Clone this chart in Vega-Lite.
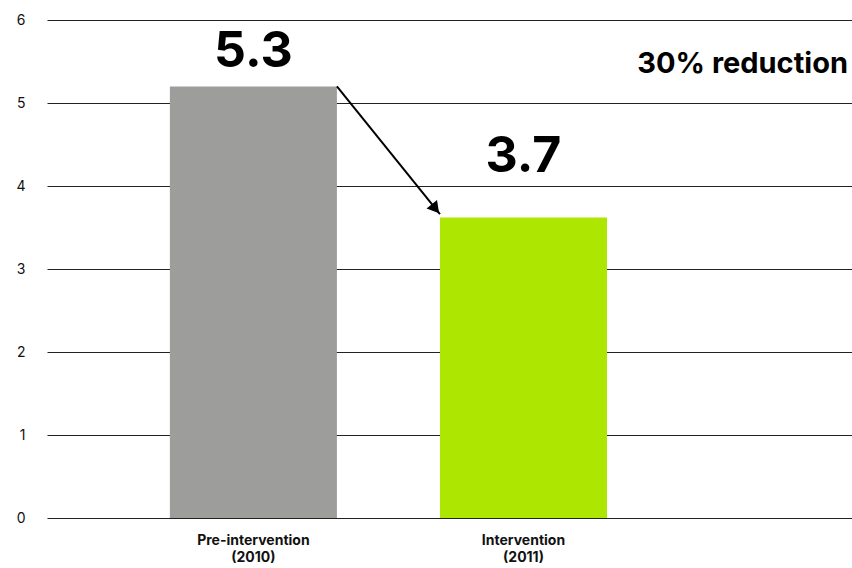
{
  "$schema": "https://vega.github.io/schema/vega-lite/v6.json",
  "width": 805,
  "height": 498,
  "autosize": {"type": "none"},
  "padding": {"left": 47, "top": 20, "right": 0, "bottom": 50},
  "background": "white",
  "config": {"view": {"stroke": null}, "font": "Inter"},
  "data": {
    "values": [
      {"category": "Pre-intervention (2010)", "value": 5.2, "label": "5.3", "label_y": 5.43},
      {"category": "Intervention (2011)", "value": 3.62, "label": "3.7", "label_y": 4.17}
    ]
  },
  "layer": [
    {
      "mark": {"type": "bar"},
      "encoding": {
        "x": {
          "field": "category",
          "type": "nominal",
          "sort": null,
          "scale": {"domain": ["Pre-intervention (2010)", "Intervention (2011)"], "paddingInner": 0.3815, "paddingOuter": 0.681, "align": 0.334},
          "axis": {
            "title": null,
            "domain": false,
            "ticks": false,
            "grid": false,
            "labelAngle": 0,
            "labelFontWeight": "bold",
            "labelFontSize": 14,
            "labelColor": "#111111",
            "labelPadding": 15,
            "labelLineHeight": 17,
            "labelExpr": "[split(datum.value, ' ')[0], split(datum.value, ' ')[1]]"
          }
        },
        "y": {
          "field": "value",
          "type": "quantitative",
          "scale": {"domain": [0, 6], "nice": false},
          "axis": {
            "title": null,
            "values": [0, 1, 2, 3, 4, 5, 6],
            "format": "d",
            "grid": true,
            "gridColor": "#222222",
            "gridOpacity": 1,
            "gridWidth": 1,
            "domain": false,
            "ticks": false,
            "labelPadding": 22,
            "labelFontSize": 14,
            "labelColor": "#111111"
          }
        },
        "color": {
          "field": "category",
          "type": "nominal",
          "sort": null,
          "scale": {"domain": ["Pre-intervention (2010)", "Intervention (2011)"], "range": ["#9d9d9c", "#ade600"]},
          "legend": null
        }
      }
    },
    {
      "mark": {"type": "text", "fontSize": 50, "fontWeight": "bold", "baseline": "alphabetic", "color": "#000000"},
      "encoding": {
        "x": {"field": "category", "type": "nominal", "sort": null},
        "y": {"field": "label_y", "type": "quantitative"},
        "text": {"field": "label"}
      }
    },
    {
      "data": {"values": [{"from": "Pre-intervention (2010)", "to": "Intervention (2011)", "y1": 5.2, "y2": 3.66}]},
      "mark": {"type": "rule", "strokeWidth": 2, "color": "#000000"},
      "encoding": {
        "x": {"field": "from", "type": "nominal", "bandPosition": 1},
        "x2": {"field": "to", "bandPosition": 0},
        "y": {"field": "y1", "type": "quantitative"},
        "y2": {"field": "y2"}
      }
    },
    {
      "data": {"values": [{"to": "Intervention (2011)", "y": 3.66}]},
      "mark": {"type": "point", "shape": "triangle-right", "angle": 51, "filled": true, "opacity": 1, "size": 180, "color": "#000000", "xOffset": -4.5, "yOffset": -5.5},
      "encoding": {
        "x": {"field": "to", "type": "nominal", "bandPosition": 0},
        "y": {"field": "y", "type": "quantitative"}
      }
    },
    {
      "data": {"values": [{"t": "30% reduction", "y": 5.36}]},
      "mark": {"type": "text", "fontSize": 29, "fontWeight": "bold", "align": "right", "baseline": "alphabetic", "dx": -4, "color": "#000000"},
      "encoding": {
        "x": {"value": "width"},
        "y": {"field": "y", "type": "quantitative"},
        "text": {"field": "t"}
      }
    }
  ]
}
